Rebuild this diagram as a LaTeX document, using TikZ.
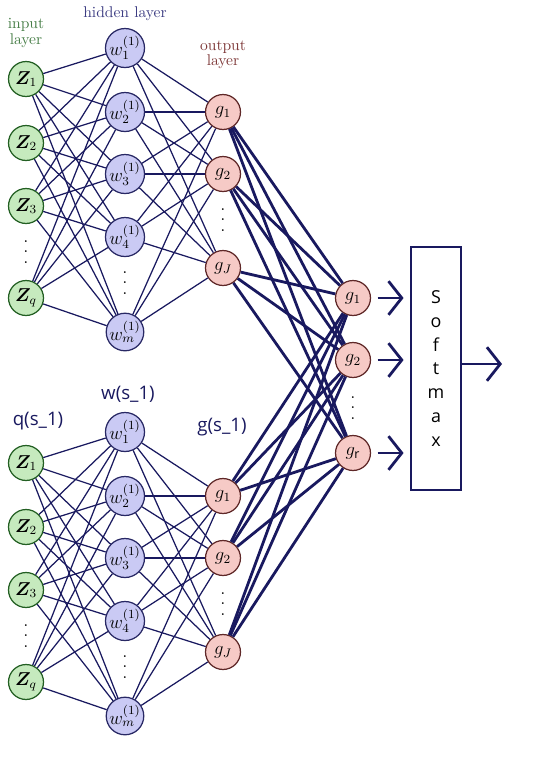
\documentclass[tikz,border=0pt]{standalone}
\usepackage{amsmath,amsfonts,amssymb,bm}
\usepackage{fontspec}
\setsansfont{Open Sans}
\usepackage{tikz}
\usetikzlibrary{arrows.meta}
\definecolor{navy}{RGB}{25,25,95}
\definecolor{inpfill}{RGB}{198,234,190}
\definecolor{inpdraw}{RGB}{35,95,35}
\definecolor{hidfill}{RGB}{202,202,244}
\definecolor{hiddraw}{RGB}{40,40,100}
\definecolor{outfill}{RGB}{246,202,198}
\definecolor{outdraw}{RGB}{95,40,40}
\definecolor{inptext}{RGB}{70,125,70}
\definecolor{hidtext}{RGB}{60,60,130}
\definecolor{outtext}{RGB}{125,55,55}
\tikzset{
  neuron/.style={circle, draw, line width=0.8pt, minimum size=7.9mm, inner sep=0pt, font=\large},
  inp/.style={neuron, draw=inpdraw, fill=inpfill},
  hid/.style={neuron, draw=hiddraw, fill=hidfill},
  outp/.style={neuron, draw=outdraw, fill=outfill},
  gap/.style={inner sep=0pt, align=center, font=\fontsize{12}{6.5}\selectfont},
  wire/.style={navy, line width=0.8pt},
  cross/.style={navy, line width=1.8pt},
  arr/.style={navy, line width=1.8pt, -{Straight Barb[length=3mm,width=7.6mm]}},
  lbl/.style={navy, font=\sffamily\large},
}
\begin{document}
\begin{tikzpicture}[x=0.0226cm, y=-0.0226cm]
        \useasboundingbox (0, 0) rectangle (540, 761);
        \foreach \n/\dy in {t/0, b/384}{
            \node[inp](\n z1)at(26, 79+\dy){$\bm{Z}_1$};
            \node[inp](\n z2)at(26, 143+\dy){$\bm{Z}_2$};
            \node[inp](\n z3)at(26, 206+\dy){$\bm{Z}_3$};
            \node[gap](\n zd)at(26, 252+\dy){.\\.\\.};
            \node[inp](\n zq)at(26, 298+\dy){$\bm{Z}_q$};
            \node[hid](\n w1)at(125, 48+\dy){$w_1^{(1)}$};
            \node[hid](\n w2)at(125, 112+\dy){$w_2^{(1)}$};
            \node[hid](\n w3)at(125, 174+\dy){$w_3^{(1)}$};
            \node[hid](\n w4)at(125, 237+\dy){$w_4^{(1)}$};
            \node[gap](\n wd)at(125, 283+\dy){.\\.\\.};
            \node[hid](\n wm)at(125, 332+\dy){$w_m^{(1)}$};
            \node[outp](\n g1)at(223, 112+\dy){$g_1$};
            \node[outp](\n g2)at(223, 174+\dy){$g_2$};
            \node[gap](\n gd)at(223, 220+\dy){.\\.\\.};
            \node[outp](\n gJ)at(223, 268+\dy){$g_J$};
        }
        \node[inptext, align=center, font=\fontsize{10}{10}\selectfont](il)at(26, 33){input\\layer};
        \node[hidtext](hl)at(125, 14){hidden layer};
        \node[outtext, align=center, font=\fontsize{10}{10}\selectfont](ol)at(223, 55){output\\layer};
        \node[lbl](ql)at(38, 421){q(s\_1)};
        \node[lbl](wl)at(128, 394){w(s\_1)};
        \node[lbl](gl)at(222, 427){g(s\_1)};
        \node[outp](s1)at(353, 298){$g_1$};
        \node[outp](s2)at(353, 360){$g_2$};
        \node[gap](sd)at(353, 408){.\\.\\.};
        \node[outp](sr)at(353, 453){$g_{\textsf{r}}$};
        \node[draw=navy, line width=1.6pt, minimum width=11.3mm, minimum height=54.9mm, align=center,
            font=\sffamily\fontsize{11.5}{15.4}\selectfont](sm)at(436, 368.5){S\\o\\f\\t\\m\\a\\x};
        \coordinate(res)at(502, 364);
        \foreach \n in {t, b}{
            \foreach \i in {1, 2, 3, q}{
                \foreach \j in {1, 2, 3, 4, m}{\draw[wire](\n z\i)--(\n w\j);}
            }
            \foreach \j in {1, 2, 3, 4, m}{
                \foreach \k in {1, 2, J}{\draw[wire](\n w\j)--(\n g\k);}
            }
            \foreach \k in {1, 2, J}{
                \foreach \r in {1, 2, r}{\draw[cross](\n g\k)--(s\r);}
            }
        }
        \foreach \r in {1, 2, r}{
            \draw[arr, shorten <=1.5mm, shorten >=1.4mm](s\r)--(s\r -| sm.west);
        }
        \draw[arr](sm.east |- res)--(res);
    \end{tikzpicture}
\end{document}
